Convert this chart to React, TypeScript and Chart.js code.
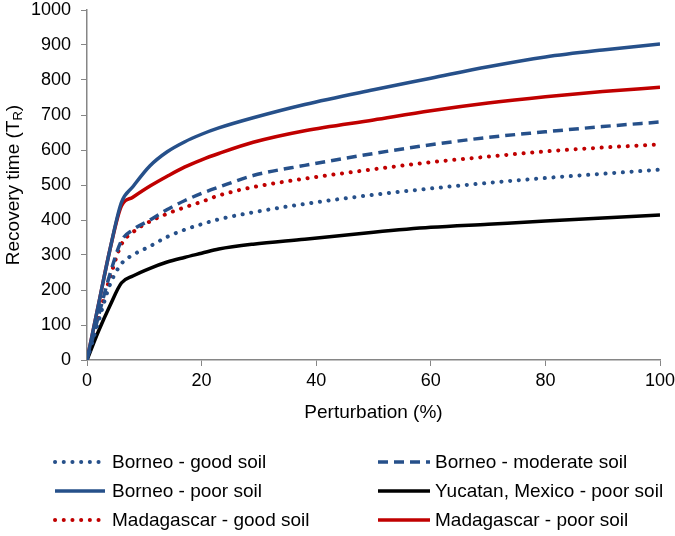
import React, { useEffect, useRef } from "react";
import { Chart, registerables } from "chart.js";

Chart.register(...registerables);

const xValues = [0, 2, 4, 6, 8, 11, 14, 17, 20, 23, 29, 38, 50, 60, 70, 80, 90, 100];
const borneoGood = [0, 110, 215, 275, 300, 325, 352, 372, 388, 402, 422, 446, 472, 490, 506, 520, 532, 544];
const borneoModerate = [0, 125, 245, 340, 372, 400, 430, 455, 476, 494, 527, 556, 590, 615, 636, 652, 667, 680];
const borneoPoor = [0, 158, 315, 450, 495, 555, 595, 623, 645, 663, 692, 730, 772, 805, 838, 866, 886, 903];
const yucatanPoor = [0, 82, 155, 220, 240, 262, 280, 293, 305, 317, 331, 345, 365, 379, 388, 397, 406, 414];
const madagascarGood = [0, 120, 235, 330, 365, 396, 418, 436, 452, 470, 494, 518, 545, 565, 581, 596, 607, 616];
const madagascarPoor = [0, 158, 315, 440, 465, 497, 525, 551, 572, 590, 622, 655, 686, 712, 734, 752, 767, 779];

const seriesLabels = [
  "Borneo - good soil",
  "Borneo - moderate soil",
  "Borneo - poor soil",
  "Yucatan, Mexico - poor soil",
  "Madagascar - good soil",
  "Madagascar - poor soil",
];

const xTitle = "Perturbation (%)";
const yTitleMain = "Recovery time (T";
const yTitleSub = "R";
const yTitleEnd = ")";

const BLUE = "#26508A";
const RED = "#C00000";
const BLACK = "#000000";
const AXIS = "#868686";
const FONT = "'Liberation Sans', Arial, sans-serif";

type Style = { color: string; dash: number[]; cap: CanvasLineCap; width: number };
const DOT: number[] = [0.1, 8.6];
const DASH: number[] = [10, 6];
const styles: Style[] = [
  { color: BLUE, dash: DOT, cap: "round", width: 4 },
  { color: BLUE, dash: DASH, cap: "butt", width: 3.5 },
  { color: BLUE, dash: [], cap: "butt", width: 3.5 },
  { color: BLACK, dash: [], cap: "butt", width: 3.5 },
  { color: RED, dash: DOT, cap: "round", width: 4 },
  { color: RED, dash: [], cap: "butt", width: 3.5 },
];
const seriesValues = [borneoGood, borneoModerate, borneoPoor, yucatanPoor, madagascarGood, madagascarPoor];

const yTitlePlugin = {
  id: "yTitleSub",
  afterDraw(chart: any) {
    const { ctx, chartArea } = chart;
    const cy = (chartArea.top + chartArea.bottom) / 2;
    ctx.save();
    ctx.translate(14, cy);
    ctx.rotate(-Math.PI / 2);
    ctx.fillStyle = "#000";
    ctx.textBaseline = "middle";
    ctx.textAlign = "left";
    const mainFont = `19px ${FONT}`;
    const subFont = `13px ${FONT}`;
    ctx.font = mainFont;
    const w1 = ctx.measureText(yTitleMain).width;
    const w3 = ctx.measureText(yTitleEnd).width;
    ctx.font = subFont;
    const w2 = ctx.measureText(yTitleSub).width;
    const total = w1 + w2 + w3;
    let x = -total / 2;
    ctx.font = mainFont;
    ctx.fillText(yTitleMain, x, 0);
    x += w1;
    ctx.font = subFont;
    ctx.fillText(yTitleSub, x, 4);
    x += w2;
    ctx.font = mainFont;
    ctx.fillText(yTitleEnd, x, 0);
    ctx.restore();
  },
};

const legendPlugin = {
  id: "gridLegend",
  afterDraw(chart: any) {
    const { ctx } = chart;
    const rows = [462, 491, 520];
    const cols = [
      { x0: 55, x1: 105, tx: 112 },
      { x0: 378, x1: 430, tx: 435 },
    ];
    chart.data.datasets.forEach((ds: any, i: number) => {
      const r = Math.floor(i / 2);
      const c = cols[i % 2];
      const y = rows[r];
      ctx.save();
      ctx.strokeStyle = ds.borderColor;
      ctx.lineWidth = ds.borderWidth;
      ctx.lineCap = ds.borderCapStyle;
      ctx.setLineDash(ds.borderDash || []);
      ctx.beginPath();
      ctx.moveTo(c.x0, y);
      ctx.lineTo(c.x1, y);
      ctx.stroke();
      ctx.setLineDash([]);
      ctx.fillStyle = "#000";
      ctx.font = `19px ${FONT}`;
      ctx.textBaseline = "middle";
      ctx.textAlign = "left";
      ctx.fillText(ds.label, c.tx, y + 1);
      ctx.restore();
    });
  },
};

export default function App() {
  const ref = useRef<HTMLCanvasElement | null>(null);
  useEffect(() => {
    if (!ref.current) return;
    const datasets = seriesLabels.map((label, i) => ({
      label,
      data: xValues.map((x, j) => ({ x, y: seriesValues[i][j] })),
      borderColor: styles[i].color,
      backgroundColor: styles[i].color,
      borderWidth: styles[i].width,
      borderDash: styles[i].dash,
      borderCapStyle: styles[i].cap,
      borderJoinStyle: "round",
      pointRadius: 0,
      cubicInterpolationMode: "monotone",
      fill: false,
    }));
    const chart = new Chart(ref.current, {
      type: "line",
      data: { datasets: datasets as any },
      plugins: [yTitlePlugin, legendPlugin],
      options: {
        animation: false,
        responsive: false,
        maintainAspectRatio: false,
        layout: { padding: { left: 0, top: 0, right: 0, bottom: 112 } },
        plugins: { legend: { display: false }, tooltip: { enabled: false } },
        scales: {
          x: {
            type: "linear",
            min: 0,
            max: 100,
            afterFit: (s: any) => {
              s.height = 64;
              s.paddingLeft = 0;
              s.paddingRight = 15;
            },
            ticks: {
              stepSize: 20,
              color: "#000",
              font: { family: FONT, size: 18 },
              padding: 4,
              maxRotation: 0,
              callback: (v: any) => String(v),
            },
            grid: { drawOnChartArea: false, drawTicks: true, tickLength: 6, color: AXIS, lineWidth: 1 },
            border: { display: true, color: AXIS, width: 1.5 },
            title: { display: true, text: xTitle, color: "#000", font: { family: FONT, size: 19 }, padding: { top: 0, bottom: 0 } },
          },
          y: {
            min: 0,
            max: 1000,
            afterFit: (s: any) => {
              s.width = 87;
              s.paddingTop = 10;
              s.paddingBottom = 0;
            },
            ticks: {
              stepSize: 100,
              color: "#000",
              font: { family: FONT, size: 18 },
              padding: 10,
              callback: (v: any) => String(v),
            },
            grid: { drawOnChartArea: false, drawTicks: true, tickLength: 6, color: AXIS, lineWidth: 1 },
            border: { display: true, color: AXIS, width: 1.5 },
          },
        },
      } as any,
    });
    return () => chart.destroy();
  }, []);
  return (
    <div style={{ position: "absolute", left: 0, top: 0, width: 675, height: 536, background: "#fff" }}>
      <canvas ref={ref} width={675} height={536} style={{ display: "block", width: 675, height: 536 }} />
    </div>
  );
}
